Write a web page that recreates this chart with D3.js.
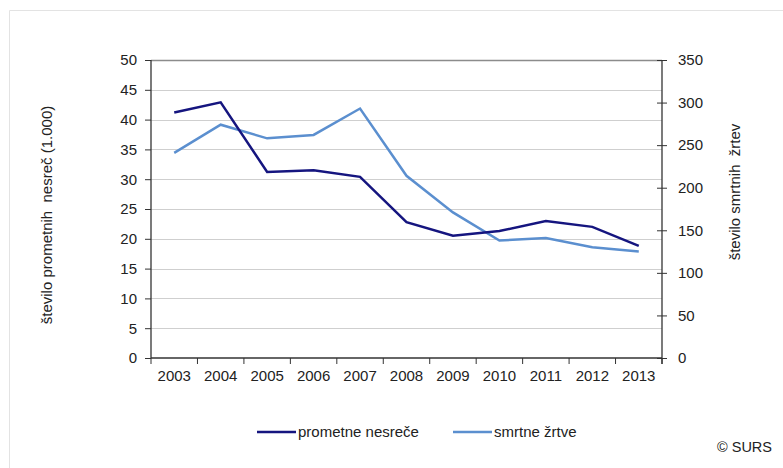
<!DOCTYPE html>
<html>
<head>
<meta charset="utf-8">
<script src="https://cdn.jsdelivr.net/npm/d3@7"></script>
<style>
  body { margin: 0; background: #fff; }
  svg { display: block; font-family: Arial, "Liberation Sans", sans-serif; }
</style>
</head>
<body>
<svg id="chart" width="783" height="468"></svg>
<script>
// ── 데이터 ────────────────────────────────────────────
const years = ['2003','2004','2005','2006','2007','2008','2009','2010','2011','2012','2013'];
const accidents = [41.2, 42.9, 31.2, 31.5, 30.4, 22.8, 20.5, 21.3, 23.0, 22.0, 18.8]; // v 1.000
const fatalities = [241, 274, 258, 262, 293, 214, 171, 138, 141, 130, 125];
const leftTicks = [0, 5, 10, 15, 20, 25, 30, 35, 40, 45, 50];
const rightTicks = [0, 50, 100, 150, 200, 250, 300, 350];

const COLOR = { accidents: '#15157f', fatalities: '#5b8fcf' };
const FS = 15;

// ── 레이아웃 ──────────────────────────────────────────
const svg = d3.select('#chart');
const M = { left: 151, right: 662, top: 60, bottom: 358 };

// outer frame (light border)
svg.append('path')
  .attr('d', 'M9.5,468 V10.5 H783')
  .attr('fill', 'none')
  .attr('stroke', '#e3e3e3');

const x = d3.scaleBand().domain(years).range([M.left, M.right]);
const yL = d3.scaleLinear().domain([0, 50]).range([M.bottom, M.top]);
const yR = d3.scaleLinear().domain([0, 350]).range([M.bottom, M.top]);

// gridlines
svg.append('g')
  .selectAll('line')
  .data(leftTicks.filter(d => d > 0))
  .join('line')
  .attr('x1', M.left).attr('x2', M.right)
  .attr('y1', d => Math.round(yL(d)) + 0.5).attr('y2', d => Math.round(yL(d)) + 0.5)
  .attr('stroke', d => d === 50 ? '#8c8c8c' : '#cfcfcf')
  .attr('stroke-width', d => d === 50 ? 1.5 : 1.2);

// left axis
const gL = svg.append('g')
  .attr('transform', `translate(${M.left},0)`)
  .call(d3.axisLeft(yL).tickValues(leftTicks).tickSize(6).tickPadding(8));
// right axis
const gR = svg.append('g')
  .attr('transform', `translate(${M.right},0)`)
  .call(d3.axisRight(yR).tickValues(rightTicks).tickSize(5).tickPadding(11));
gR.selectAll('.tick line').attr('x1', -5);
// x axis
const gX = svg.append('g')
  .attr('transform', `translate(0,${M.bottom})`)
  .call(d3.axisBottom(x).tickSize(0).tickPadding(12));
gX.selectAll('.tick line').remove();
gX.append('g')
  .selectAll('line')
  .data(years.concat(['end']))
  .join('line')
  .attr('x1', (d, i) => i < years.length ? x(d) : M.right)
  .attr('x2', (d, i) => i < years.length ? x(d) : M.right)
  .attr('y1', 0).attr('y2', 6)
  .attr('stroke', '#333');

[gL, gR, gX].forEach(g => {
  g.select('.domain').attr('stroke', '#333').attr('stroke-width', 1.3);
  g.selectAll('.tick line').attr('stroke', '#333');
  g.selectAll('text').attr('font-size', FS).attr('fill', '#222')
    .attr('font-family', 'Arial, "Liberation Sans", sans-serif');
});
gL.select('.domain').attr('d', `M0,${M.top}V${M.bottom}`);
gR.select('.domain').attr('d', `M0,${M.top}V${M.bottom + 6}`);
gX.select('.domain').attr('d', `M${M.left},0H${M.right}`);

// axis titles
svg.append('text')
  .attr('transform', 'translate(52,215) rotate(-90)')
  .attr('text-anchor', 'middle')
  .attr('font-size', FS).attr('fill', '#222')
  .attr('xml:space', 'preserve')
  .text('število prometnih  nesreč (1.000)');
svg.append('text')
  .attr('transform', 'translate(740,192) rotate(-90)')
  .attr('text-anchor', 'middle')
  .attr('font-size', FS).attr('fill', '#222')
  .attr('xml:space', 'preserve')
  .text('število smrtnih  žrtev');

// lines
const cx = d => x(d) + x.bandwidth() / 2;
svg.append('path')
  .datum(fatalities)
  .attr('fill', 'none')
  .attr('stroke', COLOR.fatalities)
  .attr('stroke-width', 2.5)
  .attr('d', d3.line().x((d, i) => cx(years[i])).y(d => yR(d)));
svg.append('path')
  .datum(accidents)
  .attr('fill', 'none')
  .attr('stroke', COLOR.accidents)
  .attr('stroke-width', 2.5)
  .attr('d', d3.line().x((d, i) => cx(years[i])).y(d => yL(d)));

// legend
const legend = [
  { label: 'prometne nesreče', color: COLOR.accidents, x: 257 },
  { label: 'smrtne žrtve', color: COLOR.fatalities, x: 453 },
];
const lg = svg.append('g').selectAll('g').data(legend).join('g')
  .attr('transform', d => `translate(${d.x},432)`);
lg.append('line').attr('x1', 0).attr('x2', 39)
  .attr('stroke', d => d.color).attr('stroke-width', 2.5);
lg.append('text').attr('x', 41).attr('y', 5)
  .attr('font-size', FS).attr('fill', '#222')
  .text(d => d.label);

svg.append('text')
  .attr('x', 772).attr('y', 452)
  .attr('text-anchor', 'end')
  .attr('font-size', 14.5).attr('fill', '#222')
  .text('© SURS');
</script>
</body>
</html>
